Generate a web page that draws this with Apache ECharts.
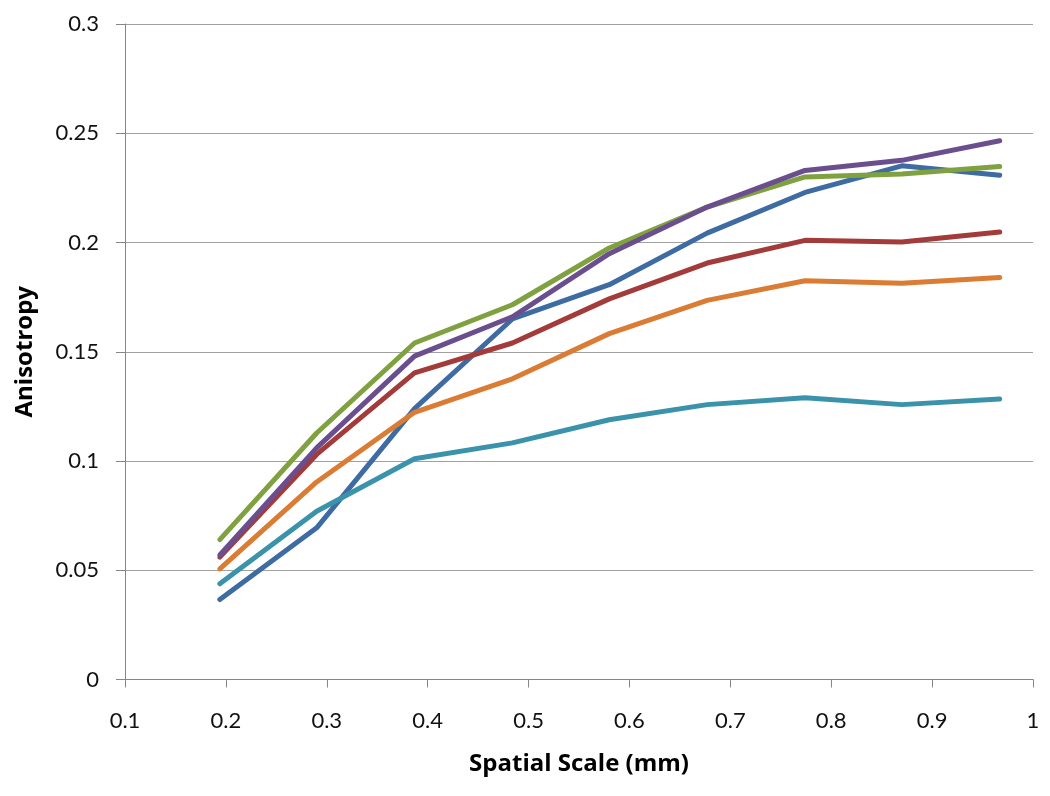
<!DOCTYPE html>
<html>
<head>
<meta charset="utf-8">
<script src="https://cdn.jsdelivr.net/npm/echarts@6/dist/echarts.min.js"></script>
<style>
html,body{margin:0;padding:0;background:#fff;}
#chart{width:1050px;height:796px;}
</style>
</head>
<body>
<div id="chart"></div>
<script>
// Data
const xValues = [0.194, 0.29, 0.387, 0.484, 0.58, 0.677, 0.774, 0.87, 0.967];
const seriesBlue   = [0.0366, 0.0694, 0.124, 0.165, 0.1807, 0.2043, 0.2229, 0.2351, 0.2308];
const seriesRed    = [0.056, 0.103, 0.1403, 0.154, 0.1742, 0.1906, 0.201, 0.2002, 0.2048];
const seriesGreen  = [0.064, 0.1128, 0.154, 0.1715, 0.1975, 0.2162, 0.230, 0.2313, 0.2348];
const seriesPurple = [0.057, 0.106, 0.148, 0.166, 0.1949, 0.2162, 0.233, 0.2376, 0.2466];
const seriesTeal   = [0.0438, 0.077, 0.101, 0.1083, 0.1189, 0.1258, 0.1289, 0.1258, 0.1284];
const seriesOrange = [0.0506, 0.0904, 0.1223, 0.1376, 0.1583, 0.1735, 0.1825, 0.1814, 0.184];
const xTicks = [0.1, 0.2, 0.3, 0.4, 0.5, 0.6, 0.7, 0.8, 0.9, 1];
const yTicks = [0, 0.05, 0.1, 0.15, 0.2, 0.25, 0.3];
const xTitle = 'Spatial Scale (mm)';
const yTitle = 'Anisotropy';

const seriesList = [
  {name: 'S1', data: seriesBlue, color: '#3D6BA2'},
  {name: 'S2', data: seriesRed, color: '#A33B3A'},
  {name: 'S3', data: seriesGreen, color: '#7FA13F'},
  {name: 'S4', data: seriesPurple, color: '#6A4E8E'},
  {name: 'S5', data: seriesTeal, color: '#3A93AA'},
  {name: 'S6', data: seriesOrange, color: '#DA7C33'}
];

const fmt = v => String(+(+v).toFixed(3));
const font = 'Lato, "Open Sans", sans-serif';
const titleFont = '"Open Sans", Lato, sans-serif';

const chart = echarts.init(document.getElementById('chart'), null, {renderer: 'canvas'});
chart.setOption({
  animation: false,
  backgroundColor: '#ffffff',
  grid: {left: 125, right: 17, top: 24, bottom: 116.5, containLabel: false},
  xAxis: {
    type: 'value',
    min: xTicks[0], max: xTicks[xTicks.length - 1], interval: 0.1,
    name: xTitle, nameLocation: 'middle', nameGap: 73,
    nameTextStyle: {fontFamily: titleFont, fontWeight: 'bold', fontSize: 24, color: '#000'},
    axisLine: {show: true, onZero: false, lineStyle: {color: '#868686', width: 1}},
    axisTick: {show: true, length: 8, lineStyle: {color: '#868686'}},
    axisLabel: {fontFamily: font, fontSize: 22, color: '#111', margin: 30, formatter: fmt},
    splitLine: {show: false}
  },
  yAxis: {
    type: 'value',
    min: yTicks[0], max: yTicks[yTicks.length - 1], interval: 0.05,
    name: yTitle, nameLocation: 'middle', nameGap: 88,
    nameTextStyle: {fontFamily: titleFont, fontWeight: 'bold', fontSize: 24, color: '#000'},
    axisLine: {show: true, lineStyle: {color: '#868686', width: 1}},
    axisTick: {show: true, length: 9, lineStyle: {color: '#868686'}},
    axisLabel: {fontFamily: font, fontSize: 22, color: '#111', margin: 26, formatter: fmt},
    splitLine: {show: true, lineStyle: {color: '#A0A0A0', width: 1}}
  },
  series: seriesList.map(s => ({
    name: s.name,
    type: 'line',
    data: xValues.map((x, i) => [x, s.data[i]]),
    showSymbol: false,
    symbol: 'none',
    lineStyle: {color: s.color, width: 5, cap: 'round', join: 'round'},
    itemStyle: {color: s.color}
  }))
});
</script>
</body>
</html>
